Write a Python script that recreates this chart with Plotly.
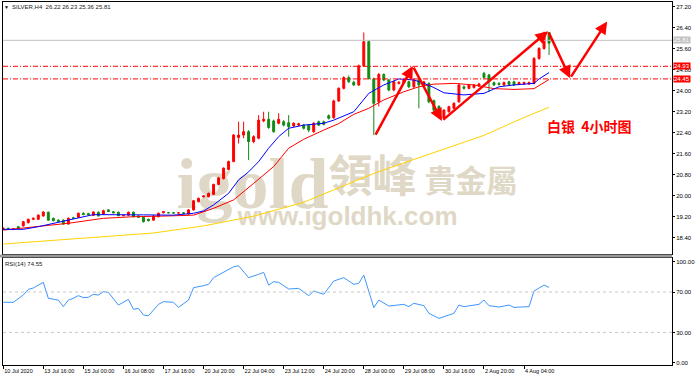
import plotly.graph_objects as go

# ---------------- data ----------------
bars = list(range(110))
opens = [18.74, 18.76, 18.72, 18.82, 18.85, 18.97, 19.10, 19.10, 19.23, 19.37,
         19.14, 19.07, 19.07, 18.92, 19.16, 19.18, 19.33, 19.32, 19.25, 19.37,
         19.30, 19.46, 19.39, 19.37, 19.24, 19.26, 19.37, 19.23, 19.18, 19.10,
         19.07, 19.20, 19.35, 19.36, 19.35, 19.34, 19.35, 19.30, 19.46, 19.77,
         19.96, 19.96, 20.05, 20.43, 20.65, 21.00, 21.30, 22.22, 22.31, 22.44,
         22.06, 22.19, 22.85, 22.91, 22.85, 22.76, 22.82, 22.78, 22.66, 22.69,
         22.69, 22.69, 22.44, 22.82, 22.82, 23.05, 22.97, 23.61, 24.09, 24.50,
         24.32, 24.22, 24.95, 25.87, 24.45, 23.58, 24.62, 24.41, 24.03, 24.28,
         24.30, 24.34, 24.15, 24.41, 24.22, 24.28, 23.62, 23.40, 22.95, 23.20,
         23.33, 23.58, 24.15, 24.09, 24.12, 24.18, 24.66, 24.60, 24.31, 24.28,
         24.22, 24.34, 24.34, 24.25, 24.26, 24.26, 24.28, 25.23, 25.61, 26.22]
highs = [18.79, 18.78, 18.76, 18.85, 19.04, 19.13, 19.17, 19.29, 19.41, 19.40,
         19.17, 19.10, 19.10, 19.17, 19.20, 19.36, 19.37, 19.35, 19.41, 19.40,
         19.47, 19.49, 19.42, 19.40, 19.28, 19.40, 19.40, 19.26, 19.21, 19.13,
         19.26, 19.36, 19.42, 19.38, 19.37, 19.37, 19.37, 19.49, 19.84, 19.93,
         20.02, 20.12, 20.46, 20.72, 21.08, 21.34, 22.35, 22.82, 22.82, 22.50,
         22.30, 23.07, 23.20, 23.20, 22.90, 23.14, 22.88, 23.07, 22.80, 22.78,
         22.74, 22.72, 22.80, 22.86, 22.86, 23.10, 23.66, 24.13, 24.55, 24.58,
         24.38, 25.00, 26.22, 25.92, 24.50, 24.68, 24.66, 24.45, 24.38, 24.36,
         24.45, 24.38, 24.46, 24.45, 24.38, 24.32, 23.66, 23.45, 23.30, 23.43,
         23.56, 24.28, 24.20, 24.26, 24.26, 24.30, 24.72, 24.64, 24.35, 24.32,
         24.35, 24.38, 24.38, 24.35, 24.35, 24.35, 25.28, 25.66, 26.25, 26.23]
lows = [18.70, 18.70, 18.69, 18.74, 18.83, 18.95, 19.07, 19.08, 19.20, 19.04,
        19.02, 19.00, 18.90, 18.90, 19.12, 19.15, 19.26, 19.26, 19.23, 19.21,
        19.28, 19.38, 19.33, 19.22, 19.21, 19.24, 19.18, 19.15, 18.98, 19.02,
        19.05, 19.18, 19.33, 19.33, 19.32, 19.32, 19.31, 19.28, 19.44, 19.75,
        19.93, 19.94, 20.03, 20.40, 20.62, 20.97, 21.28, 21.99, 22.19, 21.36,
        22.00, 22.15, 22.80, 22.55, 22.40, 22.72, 22.64, 22.25, 22.62, 22.65,
        22.52, 22.42, 22.40, 22.65, 22.68, 22.90, 22.93, 23.57, 24.05, 24.30,
        24.18, 24.18, 24.90, 24.42, 22.31, 23.40, 24.36, 23.98, 23.98, 24.24,
        24.26, 24.10, 24.10, 23.33, 24.18, 23.52, 23.20, 22.95, 22.88, 23.16,
        23.29, 23.54, 24.04, 24.05, 24.08, 24.14, 24.46, 23.96, 24.18, 24.20,
        24.18, 24.20, 24.18, 24.21, 24.22, 24.22, 24.24, 25.18, 25.56, 25.36]
closes = [18.76, 18.72, 18.73, 18.76, 19.01, 19.10, 19.14, 19.26, 19.38, 19.07,
          19.05, 19.02, 18.92, 19.14, 19.14, 19.33, 19.28, 19.28, 19.38, 19.23,
          19.43, 19.40, 19.35, 19.24, 19.25, 19.37, 19.20, 19.18, 19.01, 19.05,
          19.23, 19.33, 19.39, 19.35, 19.34, 19.35, 19.33, 19.46, 19.81, 19.90,
          19.99, 20.09, 20.43, 20.68, 21.05, 21.30, 22.31, 22.31, 22.44, 22.06,
          22.25, 22.88, 22.91, 22.60, 22.44, 22.91, 22.69, 22.63, 22.76, 22.74,
          22.57, 22.50, 22.76, 22.69, 22.72, 22.95, 23.61, 24.09, 24.50, 24.34,
          24.22, 24.95, 25.87, 24.47, 23.52, 24.62, 24.41, 24.03, 24.34, 24.32,
          24.41, 24.15, 24.41, 24.22, 24.34, 23.58, 23.26, 23.14, 23.26, 23.39,
          23.52, 24.22, 24.09, 24.22, 24.22, 24.26, 24.50, 24.34, 24.22, 24.24,
          24.31, 24.24, 24.22, 24.31, 24.31, 24.31, 25.23, 25.61, 26.20, 25.81]

ma_blue_idx = [0, 4, 7, 10, 13, 18, 28, 34, 38, 40, 42, 45, 47, 49, 51, 53, 55, 57,
               60, 64, 66, 70, 73, 76, 79, 82, 84, 86, 88, 92, 96, 99, 102, 106, 107, 109]
ma_blue_val = [18.72, 18.72, 18.82, 18.95, 19.07, 19.28, 19.27, 19.26, 19.33, 19.42,
               19.65, 20.09, 20.60, 20.91, 21.30, 21.81, 22.25, 22.57, 22.69, 22.76,
               22.88, 23.20, 23.90, 24.22, 24.45, 24.41, 24.28, 24.12, 23.92, 23.84,
               23.90, 24.15, 24.22, 24.28, 24.45, 24.69]
ma_red_idx = [0, 6, 13, 20, 26, 33, 38, 42, 46, 50, 54, 57, 60, 64, 67, 70, 73, 76,
              80, 83, 86, 90, 94, 98, 102, 106, 109]
ma_red_val = [18.69, 18.80, 18.95, 19.14, 19.20, 19.23, 19.26, 19.52, 19.84, 20.47,
              21.11, 21.81, 22.15, 22.50, 22.75, 23.10, 23.33, 23.65, 23.96, 24.15,
              24.25, 24.28, 24.22, 24.08, 24.05, 24.08, 24.43]
ma_yel_idx = [0, 10, 20, 30, 40, 50, 60, 67, 74, 80, 87, 96, 104, 109]
ma_yel_val = [18.16, 18.30, 18.42, 18.58, 18.85, 19.22, 19.75, 20.30, 20.85, 21.25,
              21.70, 22.30, 22.98, 23.37]

rsi_idx = [0, 2, 4, 5, 6, 8, 9, 11, 12, 13, 14, 15, 16, 17, 18, 19, 20, 21, 23, 24,
           25, 26, 27, 28, 29, 31, 32, 34, 35, 37, 38, 40, 41, 42, 44, 46, 47, 49, 51, 52,
           53, 54, 55, 57, 59, 61, 62, 64, 66, 68, 70, 71, 72, 74, 75, 77, 80, 81, 82, 84,
           85, 87, 90, 91, 92, 95, 96, 97, 99, 101, 102, 105, 106, 108, 109]
rsi_val = [59.8, 59.8, 67.0, 72.6, 74.0, 79.6, 63.8, 62.0, 55.5, 62.0, 63.8, 66.4, 64.4,
           64.8, 67.7, 67.0, 70.3, 69.6, 57.1, 59.8, 62.7, 52.9, 53.8, 47.2, 46.5, 57.8,
           60.5, 59.8, 54.8, 62.0, 74.3, 76.3, 77.6, 84.2, 89.5, 95.0, 96.0, 84.2, 87.5,
           89.5, 76.9, 80.2, 79.6, 73.0, 73.6, 66.4, 71.0, 67.7, 80.9, 84.2, 77.6, 78.6,
           86.8, 54.5, 62.0, 56.1, 57.8, 55.5, 58.8, 56.5, 48.9, 43.9, 48.9, 57.1, 55.5,
           57.8, 62.0, 56.5, 55.1, 57.1, 54.8, 55.5, 71.0, 76.9, 74.55]
rsi_levels = [30, 70]

tick_idx = [0, 8, 16, 24, 32, 40, 48, 56, 64, 72, 80, 88, 96, 104]
tick_labels = ["10 Jul 2020", "13 Jul 16:00", "15 Jul 00:00", "16 Jul 08:00",
               "17 Jul 16:00", "20 Jul 20:00", "22 Jul 04:00", "23 Jul 12:00",
               "24 Jul 20:00", "28 Jul 00:00", "29 Jul 08:00", "30 Jul 16:00",
               "2 Aug 20:00", "4 Aug 04:00"]
price_ticks = [18.40, 19.20, 20.00, 20.80, 21.60, 22.40, 23.20, 24.00, 24.80,
               25.60, 26.40, 27.20]
rsi_ticks = [0, 30, 70, 100]

red_levels = [24.93, 24.45]
bid_level = 25.92
bid_text = "25.81"

arrow_idx = [74.2, 81.8, 87.6, 108.8, 113.2, 120.6]
arrow_price = [22.27, 24.94, 22.85, 26.27, 24.48, 26.64]

title_text = "SILVER,H4  26.22 26.23 25.36 25.81"
rsi_text = "RSI(14) 74.55"
cn_text = "白银  4小时图"

# ---------------- layout helpers ----------------
W, H = 700, 378
ML, MR, MT, MB = 3, 28, 2, 13
PW, PH = W - ML - MR, H - MT - MB


def pxx(px):
    return (px - ML) / PW


def pxy(py):
    return (H - MB - py) / PH


main_bottom, rsi_top = 254, 258
xr = [-0.05, 133.55]

fig = go.Figure()
fig.add_trace(go.Candlestick(
    x=bars, open=opens, high=highs, low=lows, close=closes,
    increasing=dict(line=dict(color="#ff0000", width=1), fillcolor="#ff0000"),
    decreasing=dict(line=dict(color="#138a13", width=1), fillcolor="#138a13"),
    whiskerwidth=0, xaxis="x", yaxis="y", hoverinfo="skip"))
fig.add_trace(go.Scatter(x=ma_yel_idx, y=ma_yel_val, mode="lines",
                         line=dict(color="#ffd200", width=1), xaxis="x", yaxis="y"))
fig.add_trace(go.Scatter(x=ma_red_idx, y=ma_red_val, mode="lines",
                         line=dict(color="#ff0000", width=1), xaxis="x", yaxis="y"))
fig.add_trace(go.Scatter(x=ma_blue_idx, y=ma_blue_val, mode="lines",
                         line=dict(color="#0000ff", width=1), xaxis="x", yaxis="y"))
fig.add_trace(go.Scatter(x=rsi_idx, y=rsi_val, mode="lines",
                         line=dict(color="#3c96ff", width=1), xaxis="x2", yaxis="y2"))

shapes = []
# watermark (below traces)
wm_col = "#e0d8c6"
for txt, x0, x1, y0, y1, fam, size in [
    ("<b>igold</b>", 175, 330, 138, 213, "Liberation Serif", 72),
    ("<b>領峰</b>", 325, 420, 150, 210, "Noto Sans CJK TC", 44),
    ("<b>貴金屬</b>", 420, 522, 165, 202, "Noto Sans CJK TC", 31),
    ("<b>www.igoldhk.com</b>", 230, 465, 201, 227, "Liberation Sans", 26),
]:
    shapes.append(dict(type="rect", xref="paper", yref="paper",
                       x0=pxx(x0), x1=pxx(x1), y0=pxy(y1), y1=pxy(y0),
                       line=dict(width=0), fillcolor="rgba(0,0,0,0)", layer="below",
                       label=dict(text=txt, font=dict(family=fam, size=size, color=wm_col),
                                  textposition="middle center")))
for lv in red_levels:
    shapes.append(dict(type="line", xref="paper", yref="y", x0=0, x1=1, y0=lv, y1=lv,
                       line=dict(color="#ff0000", width=1, dash="5px,2px,1px,2px")))
shapes.append(dict(type="line", xref="paper", yref="y", x0=0, x1=1, y0=bid_level,
                   y1=bid_level, line=dict(color="#c0c0c0", width=1)))
for lv in rsi_levels:
    shapes.append(dict(type="line", xref="paper", yref="y2", x0=0, x1=1, y0=lv, y1=lv,
                       line=dict(color="#c8c8c8", width=1, dash="dot")))
shapes.append(dict(type="rect", xref="paper", yref="paper", x0=-0.005, x1=1.0,
                   y0=pxy(rsi_top - 0.5), y1=pxy(main_bottom + 0.5), fillcolor="#9a9a9a",
                   line=dict(width=0)))

ann = []
for k in range(len(arrow_idx) - 1):
    ann.append(dict(x=arrow_idx[k + 1], y=arrow_price[k + 1], ax=arrow_idx[k],
                    ay=arrow_price[k], xref="x", yref="y", axref="x", ayref="y",
                    text="", showarrow=True, arrowhead=2, arrowsize=1.0,
                    arrowwidth=2.5, arrowcolor="#ff0000", standoff=0))
ann.append(dict(x=pxx(2), y=pxy(7), xref="paper", yref="paper", text="▼",
                showarrow=False, xanchor="left", yanchor="middle",
                font=dict(size=5, color="black")))
ann.append(dict(x=pxx(10), y=pxy(7), xref="paper", yref="paper", text=title_text,
                showarrow=False, xanchor="left", yanchor="middle",
                font=dict(size=6, color="#202020", family="Liberation Sans")))
ann.append(dict(x=pxx(3), y=pxy(264), xref="paper", yref="paper", text=rsi_text,
                showarrow=False, xanchor="left", yanchor="middle",
                font=dict(size=6, color="#202020", family="Liberation Sans")))
ann.append(dict(x=pxx(545), y=pxy(126), xref="paper", yref="paper",
                text="<b>" + cn_text + "</b>", showarrow=False, xanchor="left",
                yanchor="middle",
                font=dict(size=14, color="#ff0000", family="Noto Sans CJK SC")))
for lv in red_levels:
    ann.append(dict(x=1, y=lv, xref="paper", yref="y", text=f"{lv:.2f}",
                    showarrow=False, xanchor="left", yanchor="middle", xshift=1,
                    bgcolor="#ff0000", borderpad=0,
                    font=dict(size=6, color="white", family="Liberation Sans")))
ann.append(dict(x=1, y=bid_level, xref="paper", yref="y", text=bid_text,
                showarrow=False, xanchor="left", yanchor="middle", xshift=1,
                bgcolor="#c0c0c0", borderpad=0,
                font=dict(size=6, color="white", family="Liberation Sans")))

axis_common = dict(showgrid=False, zeroline=False, showline=True, mirror=True,
                   linecolor="black", linewidth=1)
fig.update_layout(
    width=W, height=H, margin=dict(l=ML, r=MR, t=MT, b=MB),
    paper_bgcolor="white", plot_bgcolor="white", showlegend=False,
    font=dict(family="Liberation Sans", size=6, color="black"),
    boxgap=0.45, shapes=shapes, annotations=ann,
    xaxis=dict(domain=[0, 1], range=xr, anchor="y", showticklabels=False, ticks="",
               rangeslider=dict(visible=False), **axis_common),
    yaxis=dict(domain=[pxy(main_bottom), 1], range=[17.78, 27.38], side="right",
               anchor="x", tickvals=price_ticks,
               ticktext=[f"{v:.2f}" for v in price_ticks], ticks="outside",
               ticklen=2, tickcolor="black", tickfont=dict(size=6), **axis_common),
    xaxis2=dict(domain=[0, 1], range=xr, anchor="y2", tickvals=tick_idx,
                ticktext=tick_labels, ticklabelposition="outside right",
                ticks="outside", ticklen=3, tickcolor="black",
                tickfont=dict(size=5.5), **axis_common),
    yaxis2=dict(domain=[0, pxy(rsi_top)], range=[-2.3, 103.7], side="right",
                anchor="x2", tickvals=rsi_ticks,
                ticktext=[f"{v:.2f}" for v in rsi_ticks], ticks="outside",
                ticklen=2, tickcolor="black", tickfont=dict(size=6), **axis_common),
)

fig.write_html("out.html", config={"displayModeBar": False})
